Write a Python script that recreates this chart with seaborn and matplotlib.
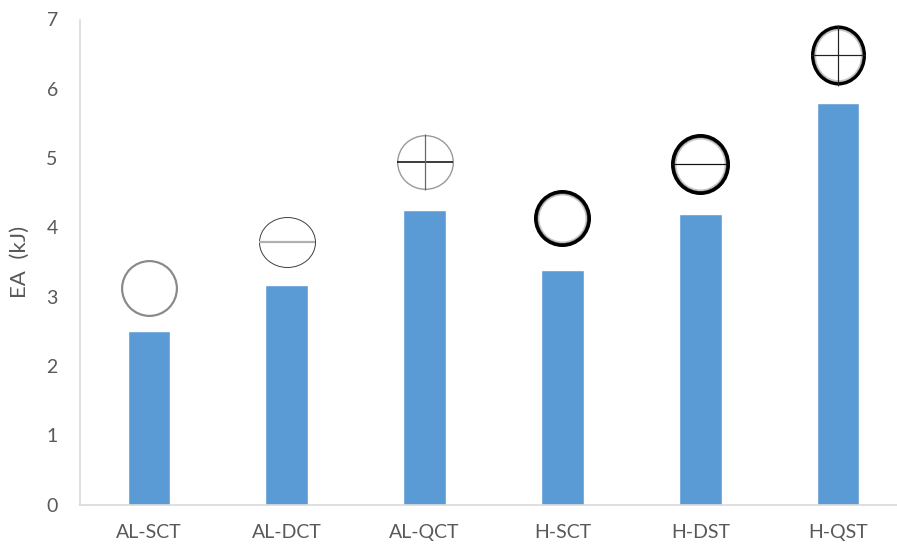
import matplotlib
matplotlib.use("Agg")
import matplotlib.pyplot as plt
from matplotlib.markers import MarkerStyle
from matplotlib.transforms import Affine2D
import seaborn as sns
import pandas as pd

# Specimen types and their absorbed energy
categories = ["AL-SCT", "AL-DCT", "AL-QCT", "H-SCT", "H-DST", "H-QST"]
ea_values = [2.50, 3.17, 4.25, 3.38, 4.19, 5.80]
# height of the cross-section symbol drawn above each bar
icon_levels = [3.12, 3.79, 4.95, 4.13, 4.92, 6.49]

df = pd.DataFrame({"specimen": categories, "EA": ea_values})

sns.set_theme(style="white")
plt.rcParams["font.family"] = ["Lato", "DejaVu Sans"]

DPI = 100
fig = plt.figure(figsize=(8.97, 5.48), dpi=DPI)
W, H = 897, 548
ax = fig.add_axes([80 / W, (H - 504.5) / H, (907 - 80) / W, (504.5 - 19.5) / H])

sns.barplot(data=df, x="specimen", y="EA", order=categories, color="#5b9bd5",
            width=0.31, saturation=1, ax=ax, zorder=2)

ax.set_ylim(0, 7)
ax.set_xlim(-0.5, 5.5)
ax.set_yticks(range(0, 8))
ax.set_xlabel("")
ax.set_ylabel("EA  (kJ)", fontsize=16, color="#595959", labelpad=12)
ax.tick_params(axis="both", length=0, labelsize=14, colors="#595959")
ax.tick_params(axis="y", pad=16)
ax.tick_params(axis="x", pad=14)

for side in ["top", "right"]:
    ax.spines[side].set_visible(False)
for side in ["left", "bottom"]:
    ax.spines[side].set_color("#d9d9d9")
    ax.spines[side].set_linewidth(1.2)

PT = 72.0 / DPI  # points per pixel

# symbol styles: (width px, height px, ring colour, ring width px, hline, vline)
icon_styles = [
    dict(w=57, h=57, ring="#8a8a8a", lw=2.2, hline=None, vline=None),
    dict(w=57, h=51, ring="#444444", lw=1.0, hline=("#b0b0b0", 2.2), vline=None),
    dict(w=57, h=55, ring="#9a9a9a", lw=1.4, hline=("#111111", 1.6), vline=("#666666", 1.2)),
    dict(w=57, h=57, ring="#000000", lw=4.0, hline=None, vline=None),
    dict(w=59, h=61, ring="#000000", lw=4.0, hline=("#111111", 1.2), vline=None),
    dict(w=55, h=60, ring="#000000", lw=3.6, hline=("#222222", 1.2), vline=("#222222", 1.2)),
]

for i, (lvl, st) in enumerate(zip(icon_levels, icon_styles)):
    w, h, lw = st["w"], st["h"], st["lw"]
    inner = min(w, h) - lw
    sx, sy = (w - lw) / inner, (h - lw) / inner
    marker = MarkerStyle("o", transform=Affine2D().scale(sx, sy))
    ax.plot([i], [lvl], marker=marker, markersize=inner * PT,
            markerfacecolor="white", markeredgecolor=st["ring"],
            markeredgewidth=lw * PT, linestyle="none", zorder=4)
    if lw >= 3.5:
        # soft grey halo inside the heavy ring
        ax.plot([i], [lvl], marker=marker, markersize=(inner - lw - 1) * PT,
                markerfacecolor="none", markeredgecolor="#9a9a9a",
                markeredgewidth=2.0 * PT, alpha=0.55, linestyle="none", zorder=4)
    if st["hline"]:
        c, lwl = st["hline"]
        ax.plot([i], [lvl], marker="_", markersize=(w - 1) * PT,
                markeredgecolor=c, markeredgewidth=lwl * PT,
                linestyle="none", zorder=5)
    if st["vline"]:
        c, lwl = st["vline"]
        ax.plot([i], [lvl], marker="|", markersize=(h + 1) * PT,
                markeredgecolor=c, markeredgewidth=lwl * PT,
                linestyle="none", zorder=5)

fig.savefig("out.png", dpi=DPI, facecolor="white")
